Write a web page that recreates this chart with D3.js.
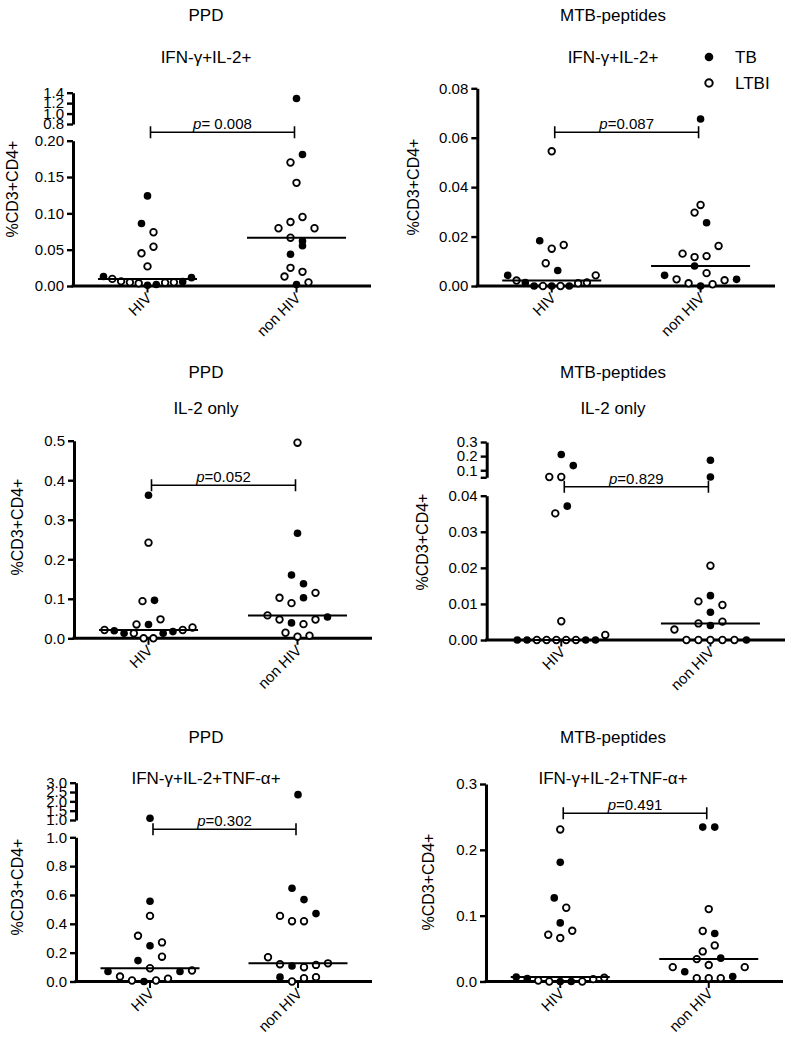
<!DOCTYPE html>
<html><head><meta charset="utf-8">
<script src="https://cdn.jsdelivr.net/npm/d3@7"></script>
<style>
body{margin:0;background:#fff;}
svg{display:block;font-family:"Liberation Sans",Arial,Helvetica,sans-serif;}
</style></head><body>
<svg id="chart" width="786" height="1040"></svg>
<script>
// ---------------- DATA ----------------
const categories = ["HIV", "non HIV"];
const stimulusTitles = ["PPD", "MTB-peptides", "PPD", "MTB-peptides", "PPD", "MTB-peptides"];
const cytokineTitles = ["IFN-\u03b3+IL-2+", "IFN-\u03b3+IL-2+", "IL-2 only", "IL-2 only",
  "IFN-\u03b3+IL-2+TNF-\u03b1+", "IFN-\u03b3+IL-2+TNF-\u03b1+"];
const pValueLabels = ["= 0.008", "=0.087", "=0.052", "=0.829", "=0.302", "=0.491"];
const yAxisTitle = "%CD3+CD4+";
const legendLabels = ["TB", "LTBI"];

// Panel 1: PPD, IFN-g+IL-2+
const p1HivValues = [0.001, 0.0037, 0.002, 0.005, 0.0046, 0.0064, 0.005, 0.0098, 0.006, 0.013, 0.0115, 0.027, 0.045, 0.054, 0.086, 0.074, 0.124];
const p1HivGroup  = ["TB","LTBI","TB","LTBI","LTBI","LTBI","LTBI","LTBI","TB","TB","TB","LTBI","LTBI","LTBI","TB","LTBI","TB"];
const p1NonValues = [0.002, 0.013, 0.005, 0.025, 0.0195, 0.0436, 0.0555, 0.0665, 0.062, 0.088, 0.095, 0.0795, 0.0795, 0.142, 0.170, 0.181, 1.29];
const p1NonGroup  = ["TB","LTBI","LTBI","LTBI","LTBI","TB","TB","LTBI","TB","LTBI","LTBI","LTBI","LTBI","LTBI","LTBI","TB","TB"];
const p1LowTicks = [0, 0.05, 0.10, 0.15, 0.20];
const p1HighTicks = [0.8, 1.0, 1.2, 1.4];

// Panel 2: MTB-peptides, IFN-g+IL-2+
const p2HivValues = [0, 0, 0, 0, 0, 0.00135, 0.0011, 0.0022, 0.0014, 0.0043, 0.0043, 0.0092, 0.0063, 0.0151, 0.0183, 0.0166, 0.0545];
const p2HivGroup  = ["TB","LTBI","LTBI","TB","TB","TB","LTBI","LTBI","LTBI","TB","LTBI","LTBI","TB","LTBI","TB","LTBI","LTBI"];
const p2NonValues = [0, 0.0011, 0.0007, 0.0027, 0.0023, 0.0043, 0.0027, 0.0081, 0.0052, 0.0117, 0.0121, 0.0131, 0.0162, 0.0297, 0.0256, 0.0328, 0.0676];
const p2NonGroup  = ["TB","LTBI","LTBI","LTBI","LTBI","TB","TB","TB","LTBI","LTBI","LTBI","LTBI","LTBI","LTBI","TB","LTBI","TB"];
const p2Ticks = [0, 0.02, 0.04, 0.06, 0.08];

// Panel 3: PPD, IL-2 only
const p3HivValues = [0, 0, 0.0125, 0.0125, 0.0125, 0.017, 0.019, 0.021, 0.021, 0.0275, 0.035, 0.035, 0.048, 0.094, 0.096, 0.242, 0.362];
const p3HivGroup  = ["LTBI","LTBI","LTBI","TB","TB","TB","TB","LTBI","LTBI","LTBI","TB","LTBI","LTBI","LTBI","TB","LTBI","TB"];
const p3NonValues = [0.004, 0.014, 0.0067, 0.039, 0.0358, 0.0475, 0.0475, 0.058, 0.054, 0.089, 0.1025, 0.1025, 0.115, 0.16, 0.138, 0.266, 0.495];
const p3NonGroup  = ["LTBI","LTBI","LTBI","TB","LTBI","LTBI","LTBI","LTBI","TB","LTBI","TB","LTBI","LTBI","TB","TB","TB","LTBI"];
const p3Ticks = [0, 0.1, 0.2, 0.3, 0.4, 0.5];

// Panel 4: MTB-peptides, IL-2 only
const p4HivValues = [0, 0, 0, 0, 0, 0, 0, 0, 0, 0.0014, 0.0052, 0.0351, 0.0371, 0.052, 0.052, 0.133, 0.212];
const p4HivGroup  = ["LTBI","LTBI","LTBI","LTBI","LTBI","TB","TB","TB","TB","LTBI","LTBI","LTBI","TB","LTBI","LTBI","TB","TB"];
const p4NonValues = [0, 0, 0, 0, 0, 0.0029, 0, 0.0040, 0.0046, 0.0051, 0.0077, 0.0107, 0.0097, 0.0123, 0.0206, 0.052, 0.171];
const p4NonGroup  = ["LTBI","LTBI","LTBI","LTBI","LTBI","LTBI","TB","TB","LTBI","LTBI","TB","LTBI","LTBI","TB","LTBI","TB","TB"];
const p4LowTicks = [0, 0.01, 0.02, 0.03, 0.04];
const p4HighTicks = [0.1, 0.2, 0.3];
const p4HighDomain = [0.05, 0.3];

// Panel 5: PPD, IFN-g+IL-2+TNF-a+
const p5HivValues = [0, 0.007, 0.007, 0.02, 0.0345, 0.069, 0.069, 0.076, 0.092, 0.145, 0.172, 0.248, 0.317, 0.271, 0.455, 0.557, 1.09];
const p5HivGroup  = ["TB","LTBI","LTBI","LTBI","LTBI","TB","TB","LTBI","LTBI","TB","LTBI","TB","LTBI","LTBI","LTBI","TB","TB"];
const p5NonValues = [0, 0.023, 0.03, 0.03, 0.108, 0.099, 0.12, 0.115, 0.168, 0.126, 0.418, 0.418, 0.455, 0.471, 0.647, 0.568, 2.36];
const p5NonGroup  = ["LTBI","LTBI","TB","LTBI","TB","LTBI","LTBI","LTBI","LTBI","LTBI","LTBI","LTBI","LTBI","TB","TB","TB","TB"];
const p5LowTicks = [0, 0.2, 0.4, 0.6, 0.8, 1.0];
const p5HighTicks = [1.0, 1.5, 2.0, 2.5, 3.0];

// Panel 6: MTB-peptides, IFN-g+IL-2+TNF-a+
const p6HivValues = [0, 0, 0, 0.0015, 0, 0.0046, 0.0036, 0.0068, 0.0056, 0.066, 0.071, 0.077, 0.089, 0.127, 0.112, 0.181, 0.231];
const p6HivGroup  = ["TB","LTBI","TB","LTBI","LTBI","TB","LTBI","TB","LTBI","LTBI","LTBI","LTBI","TB","TB","LTBI","TB","LTBI"];
const p6NonValues = [0.005, 0.005, 0.005, 0.0147, 0.0076, 0.0218, 0.0218, 0.025, 0.034, 0.0355, 0.0457, 0.0548, 0.0767, 0.073, 0.110, 0.2345, 0.2345];
const p6NonGroup  = ["LTBI","LTBI","LTBI","TB","TB","LTBI","LTBI","LTBI","LTBI","TB","LTBI","LTBI","LTBI","TB","LTBI","TB","TB"];
const p6Ticks = [0, 0.1, 0.2, 0.3];

// ---------------- PANEL CONFIG ----------------
const panelData = [
  {hiv:[p1HivValues,p1HivGroup], non:[p1NonValues,p1NonGroup], lowTicks:p1LowTicks, lowFmt:".2f", highTicks:p1HighTicks, highFmt:".1f"},
  {hiv:[p2HivValues,p2HivGroup], non:[p2NonValues,p2NonGroup], lowTicks:p2Ticks, lowFmt:".2f"},
  {hiv:[p3HivValues,p3HivGroup], non:[p3NonValues,p3NonGroup], lowTicks:p3Ticks, lowFmt:".1f"},
  {hiv:[p4HivValues,p4HivGroup], non:[p4NonValues,p4NonGroup], lowTicks:p4LowTicks, lowFmt:".2f", highTicks:p4HighTicks, highFmt:".1f", highDomain:p4HighDomain},
  {hiv:[p5HivValues,p5HivGroup], non:[p5NonValues,p5NonGroup], lowTicks:p5LowTicks, lowFmt:".1f", highTicks:p5HighTicks, highFmt:".1f"},
  {hiv:[p6HivValues,p6HivGroup], non:[p6NonValues,p6NonGroup], lowTicks:p6Ticks, lowFmt:".1f"}
];

const layouts = [
  {x0:73,    x1:371, base:286,   lowTop:140.7, highRange:[124,92.7],  bracketY:132.3, yLabel:[17.5,189],  titleX:206, titleY:[21,63]},
  {x0:477.3, x1:775, base:286,   lowTop:88.3,                          bracketY:132.3, yLabel:[418.5,187], titleX:613, titleY:[21,63]},
  {x0:74,    x1:372, base:638.3, lowTop:440.7,                         bracketY:485.3, yLabel:[22.5,527],  titleX:206, titleY:[378,414]},
  {x0:486.7, x1:785, base:640,   lowTop:495.7, highRange:[477.3,442],  bracketY:486.7, yLabel:[427.5,542], titleX:613, titleY:[378,414]},
  {x0:76,    x1:372, base:981.5, lowTop:837.3, highRange:[820,782.7],  bracketY:829.3, yLabel:[22.5,887],  titleX:206, titleY:[743,784]},
  {x0:486,   x1:783, base:981.5, lowTop:784,                           bracketY:813.3, yLabel:[433.5,882], titleX:613, titleY:[743,784]}
];

const ROW_H = 12, MAX_SPAN = 88, SLOT = 12;
const R_FILL = 3.8, R_OPEN = 3.3, OPEN_SW = 1.8;

const svg = d3.select("#chart");

function swarm(values, groups, yOf, cx) {
  const pts = values.map((v, i) => ({v, g: groups[i], i, py: yOf(v)}));
  const sorted = pts.slice().sort((a, b) => b.py - a.py || a.i - b.i);
  let k = 0;
  while (k < sorted.length) {
    const start = sorted[k].py;
    const row = [];
    while (k < sorted.length && start - sorted[k].py <= ROW_H) { row.push(sorted[k]); k++; }
    row.sort((a, b) => a.i - b.i);
    const n = row.length;
    const sp = n > 1 ? Math.min(SLOT, MAX_SPAN / (n - 1)) : SLOT;
    row.forEach((p, j) => {
      let slot;
      if (n % 2 === 1) slot = j === 0 ? 0 : (j % 2 === 1 ? -Math.ceil(j / 2) : Math.ceil(j / 2));
      else { const m = Math.floor(j / 2) + 0.5; slot = j % 2 === 0 ? -m : m; }
      p.px = cx + slot * sp;
    });
  }
  return pts;
}

function styleAxis(sel) {
  sel.select(".domain").attr("stroke", "#000").attr("stroke-width", 3);
  sel.selectAll(".tick line").attr("stroke", "#000").attr("stroke-width", 2.4);
  sel.selectAll(".tick text").attr("fill", "#000").style("font-size", "15px")
     .style("font-family", '"Liberation Sans", Arial, sans-serif');
}

panelData.forEach((cfg, idx) => {
  const L = layouts[idx];
  const g = svg.append("g");
  const x = d3.scalePoint().domain(categories).range([L.x0, L.x1]).padding(0.5);
  const lowDomain = d3.extent(cfg.lowTicks);
  const yLow = d3.scaleLinear().domain(lowDomain).range([L.base, L.lowTop]);
  let yHigh = null;
  if (cfg.highTicks) {
    const hd = cfg.highDomain || d3.extent(cfg.highTicks);
    yHigh = d3.scaleLinear().domain(hd).range(L.highRange);
  }
  const yOf = v => (yHigh && v > lowDomain[1]) ? yHigh(v) : yLow(v);

  // y axis (lower segment)
  const fLow = d3.format(cfg.lowFmt);
  g.append("g").attr("transform", `translate(${L.x0},0)`)
    .call(d3.axisLeft(yLow).tickValues(cfg.lowTicks).tickFormat(fLow).tickSize(6).tickSizeOuter(0).tickPadding(3))
    .call(styleAxis);
  // upper segment
  if (yHigh) {
    const hd = yHigh.domain();
    const fHigh = d3.format(cfg.highFmt);
    const tv = cfg.highTicks.includes(hd[0]) ? cfg.highTicks : [hd[0]].concat(cfg.highTicks);
    g.append("g").attr("transform", `translate(${L.x0},0)`)
      .call(d3.axisLeft(yHigh).tickValues(tv)
        .tickFormat(d => cfg.highTicks.includes(d) ? fHigh(d) : "").tickSize(6).tickSizeOuter(0).tickPadding(3))
      .call(styleAxis);
  }

  // x axis
  g.append("line").attr("x1", L.x0 - 1.5).attr("x2", L.x1).attr("y1", L.base).attr("y2", L.base)
    .attr("stroke", "#000").attr("stroke-width", 3);
  categories.forEach(c => {
    g.append("line").attr("x1", x(c)).attr("x2", x(c)).attr("y1", L.base).attr("y2", L.base + 6.5)
      .attr("stroke", "#000").attr("stroke-width", 2);
    g.append("text").attr("transform", `translate(${x(c) + 5},${L.base + 13}) rotate(-45)`)
      .attr("text-anchor", "end").style("font-size", "15px").text(c);
  });

  // points
  [cfg.hiv, cfg.non].forEach((grp, gi) => {
    const cx = x(categories[gi]);
    const pts = swarm(grp[0], grp[1], yOf, cx);
    g.selectAll(null).data(pts).enter().append("circle")
      .attr("cx", d => d.px).attr("cy", d => d.py)
      .attr("r", d => d.g === "TB" ? R_FILL : R_OPEN)
      .attr("fill", d => d.g === "TB" ? "#000" : "#fff")
      .attr("stroke", d => d.g === "TB" ? "none" : "#000")
      .attr("stroke-width", OPEN_SW);
    const med = d3.median(grp[0]);
    g.append("line").attr("x1", cx - 49.5).attr("x2", cx + 49.5)
      .attr("y1", yOf(med)).attr("y2", yOf(med)).attr("stroke", "#000").attr("stroke-width", 2);
  });

  // bracket
  const bx1 = x(categories[0]) + 3, bx2 = x(categories[1]) - 2, by = L.bracketY;
  g.append("path").attr("d", `M${bx1},${by - 6}V${by + 6}M${bx1},${by}H${bx2}M${bx2},${by - 6}V${by + 6}`)
    .attr("fill", "none").attr("stroke", "#000").attr("stroke-width", 1.6);
  const pt = g.append("text").attr("x", (bx1 + bx2) / 2).attr("y", by - 3)
    .attr("text-anchor", "middle").style("font-size", "15px");
  pt.append("tspan").style("font-style", "italic").text("p");
  pt.append("tspan").text(pValueLabels[idx]);

  // titles
  g.append("text").attr("x", L.titleX).attr("y", L.titleY[0]).attr("text-anchor", "middle")
    .style("font-size", "17px").text(stimulusTitles[idx]);
  g.append("text").attr("x", L.titleX).attr("y", L.titleY[1]).attr("text-anchor", "middle")
    .style("font-size", "17px").text(cytokineTitles[idx]);

  // y label
  g.append("text").attr("transform", `translate(${L.yLabel[0]},${L.yLabel[1]}) rotate(-90)`)
    .attr("text-anchor", "middle").style("font-size", "16px").text(yAxisTitle);
});

// legend
const lg = svg.append("g");
legendLabels.forEach((lab, i) => {
  const cy = 57 + i * 26;
  lg.append("circle").attr("cx", 709).attr("cy", cy)
    .attr("r", i === 0 ? 4.3 : 3.7)
    .attr("fill", i === 0 ? "#000" : "#fff")
    .attr("stroke", i === 0 ? "none" : "#000").attr("stroke-width", 2);
  lg.append("text").attr("x", 735).attr("y", cy + 6).style("font-size", "17px").text(lab);
});
</script>
</body></html>
